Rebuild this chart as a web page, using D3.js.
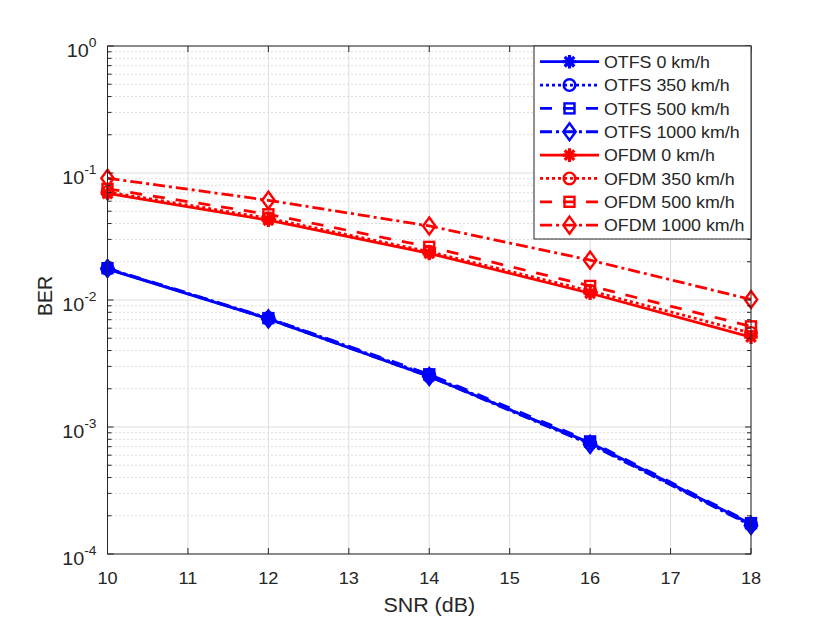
<!DOCTYPE html>
<html>
<head>
<meta charset="utf-8">
<script src="https://cdn.jsdelivr.net/npm/d3@7/dist/d3.min.js"></script>
<style>
  html, body { margin: 0; padding: 0; background: #fff; }
  svg { display: block; }
  text { font-family: "Liberation Sans", Arial, Helvetica, sans-serif; fill: #262626; }
</style>
</head>
<body>
<svg id="chart" width="830" height="623"></svg>
<script>
// ---- data ----
const snr = [10, 12, 14, 16, 18];
const xTicks = [10, 11, 12, 13, 14, 15, 16, 17, 18];
const yDecades = [-4, -3, -2, -1, 0];

const otfs0    = [0.0175, 0.0071, 0.00250, 0.000750, 0.000172];
const otfs350  = [0.0176, 0.0072, 0.00255, 0.000740, 0.000170];
const otfs500  = [0.0178, 0.0072, 0.00260, 0.000770, 0.000175];
const otfs1000 = [0.0177, 0.0071, 0.00250, 0.000730, 0.000168];
const ofdm0    = [0.0690, 0.0425, 0.0233, 0.0113, 0.00510];
const ofdm350  = [0.0710, 0.0440, 0.0240, 0.0118, 0.00550];
const ofdm500  = [0.0750, 0.0473, 0.0262, 0.0129, 0.00620];
const ofdm1000 = [0.0910, 0.0610, 0.0383, 0.0206, 0.01010];

const seriesNames = ["OTFS 0 km/h", "OTFS 350 km/h", "OTFS 500 km/h", "OTFS 1000 km/h",
                     "OFDM 0 km/h", "OFDM 350 km/h", "OFDM 500 km/h", "OFDM 1000 km/h"];
const seriesValues = [otfs0, otfs350, otfs500, otfs1000, ofdm0, ofdm350, ofdm500, ofdm1000];
const seriesColors = ["#0000ff", "#0000ff", "#0000ff", "#0000ff", "#ff0000", "#ff0000", "#ff0000", "#ff0000"];
const seriesDash = ["none", "3,3", "12,11", "12,4,3,4", "none", "3,3", "12,11", "12,4,3,4"];
const seriesMarker = ["asterisk", "circle", "square", "diamond", "asterisk", "circle", "square", "diamond"];

// ---- layout ----
const W = 830, H = 623;
const L = 107.5, R = 751, T = 46, B = 554;
const SX = 1.1; // horizontal text stretch

const svg = d3.select("#chart");
const x = d3.scaleLinear().domain([10, 18]).range([L, R]);
const y = d3.scaleLog().domain([1e-4, 1]).range([B, T]);

const axisColor = "#262626";

// minor y values
const minorY = [];
for (let d = -4; d < 0; d++) for (let m = 2; m <= 9; m++) minorY.push(m * Math.pow(10, d));

const grid = svg.append("g");
grid.selectAll("line.minor").data(minorY).enter().append("line")
  .attr("x1", L).attr("x2", R)
  .attr("y1", d => y(d)).attr("y2", d => y(d))
  .attr("stroke", "#b8b8b8").attr("stroke-width", 1).attr("stroke-dasharray", "1,3");
grid.selectAll("line.mx").data(xTicks).enter().append("line")
  .attr("x1", d => x(d)).attr("x2", d => x(d)).attr("y1", T).attr("y2", B)
  .attr("stroke", "#dedede").attr("stroke-width", 1);
grid.selectAll("line.my").data(yDecades).enter().append("line")
  .attr("x1", L).attr("x2", R)
  .attr("y1", d => y(Math.pow(10, d))).attr("y2", d => y(Math.pow(10, d)))
  .attr("stroke", "#dedede").attr("stroke-width", 1);

// ---- markers ----
function drawMarker(g, type, cx, cy, color) {
  const sw = 2.4;
  if (type === "asterisk") {
    const r = 6.8, rd = 4.8;
    const p = `M${cx - r},${cy}L${cx + r},${cy}M${cx},${cy - r}L${cx},${cy + r}` +
              `M${cx - rd},${cy - rd}L${cx + rd},${cy + rd}M${cx - rd},${cy + rd}L${cx + rd},${cy - rd}`;
    g.append("path").attr("d", p).attr("stroke", color).attr("stroke-width", sw + 0.8).attr("fill", "none");
  } else if (type === "circle") {
    g.append("circle").attr("cx", cx).attr("cy", cy).attr("r", 5.8)
      .attr("stroke", color).attr("stroke-width", sw).attr("fill", "none");
  } else if (type === "square") {
    g.append("rect").attr("x", cx - 5).attr("y", cy - 5).attr("width", 10).attr("height", 10)
      .attr("stroke", color).attr("stroke-width", sw).attr("fill", "none");
  } else if (type === "diamond") {
    g.append("path").attr("d", `M${cx},${cy - 8.5}L${cx + 6.2},${cy}L${cx},${cy + 8.5}L${cx - 6.2},${cy}Z`)
      .attr("stroke", color).attr("stroke-width", sw).attr("fill", "none");
  }
}

// ---- series ----
const line = d3.line().x((d, i) => x(snr[i])).y(d => y(d));
const plot = svg.append("g");
seriesValues.forEach((vals, k) => {
  const g = plot.append("g");
  g.append("path").datum(vals).attr("d", line)
    .attr("fill", "none").attr("stroke", seriesColors[k]).attr("stroke-width", 2.8)
    .attr("stroke-dasharray", seriesDash[k]).attr("stroke-linejoin", "round");
  vals.forEach((v, i) => drawMarker(g, seriesMarker[k], x(snr[i]), y(v), seriesColors[k]));
});

// ---- axes box & ticks ----
const ax = svg.append("g");
const tl = 6;
xTicks.forEach(t => {
  ax.append("line").attr("x1", x(t)).attr("x2", x(t)).attr("y1", B).attr("y2", B - tl).attr("stroke", axisColor);
  ax.append("line").attr("x1", x(t)).attr("x2", x(t)).attr("y1", T).attr("y2", T + tl).attr("stroke", axisColor);
  ax.append("text").attr("transform", `translate(${x(t)},583.5) scale(${SX},1)`)
    .attr("text-anchor", "middle").attr("font-size", 16.5).text(t);
});
yDecades.forEach(d => {
  const yy = y(Math.pow(10, d));
  ax.append("line").attr("x1", L).attr("x2", L + tl).attr("y1", yy).attr("y2", yy).attr("stroke", axisColor);
  ax.append("line").attr("x1", R).attr("x2", R - tl).attr("y1", yy).attr("y2", yy).attr("stroke", axisColor);
  const t = ax.append("text").attr("transform", `translate(96.5,${yy + 11}) scale(1.07,1)`)
    .attr("text-anchor", "end").attr("font-size", 18.5);
  t.append("tspan").text("10");
  t.append("tspan").attr("dy", -10).attr("font-size", 13).text(String(d));
});
minorY.forEach(v => {
  const yy = y(v);
  ax.append("line").attr("x1", L).attr("x2", L + 4).attr("y1", yy).attr("y2", yy).attr("stroke", axisColor);
  ax.append("line").attr("x1", R).attr("x2", R - 4).attr("y1", yy).attr("y2", yy).attr("stroke", axisColor);
});
ax.append("rect").attr("x", L).attr("y", T).attr("width", R - L).attr("height", B - T)
  .attr("fill", "none").attr("stroke", axisColor).attr("stroke-width", 1);

// axis labels
svg.append("text").attr("transform", `translate(${(L + R) / 2},611.5) scale(${SX},1)`)
  .attr("text-anchor", "middle").attr("font-size", 19.5).text("SNR (dB)");
svg.append("text").attr("transform", `translate(52,${(T + B) / 2 - 4}) rotate(-90)`)
  .attr("text-anchor", "middle").attr("font-size", 19.5).text("BER");

// ---- legend ----
const lg = svg.append("g");
const lx0 = 534, ly0 = 46, lw = 217, lh = 193;
lg.append("rect").attr("x", lx0).attr("y", ly0).attr("width", lw).attr("height", lh)
  .attr("fill", "#fff").attr("stroke", axisColor).attr("stroke-width", 1);
seriesNames.forEach((name, k) => {
  const cy = 61.7 + k * 23.35;
  lg.append("line").attr("x1", 540).attr("x2", 599).attr("y1", cy).attr("y2", cy)
    .attr("stroke", seriesColors[k]).attr("stroke-width", 2.8).attr("stroke-dasharray", seriesDash[k]);
  drawMarker(lg, seriesMarker[k], 569.5, cy, seriesColors[k]);
  lg.append("text").attr("transform", `translate(604,${cy + 6.3}) scale(${SX},1)`)
    .attr("font-size", 16.2).text(name);
});
</script>
</body>
</html>
